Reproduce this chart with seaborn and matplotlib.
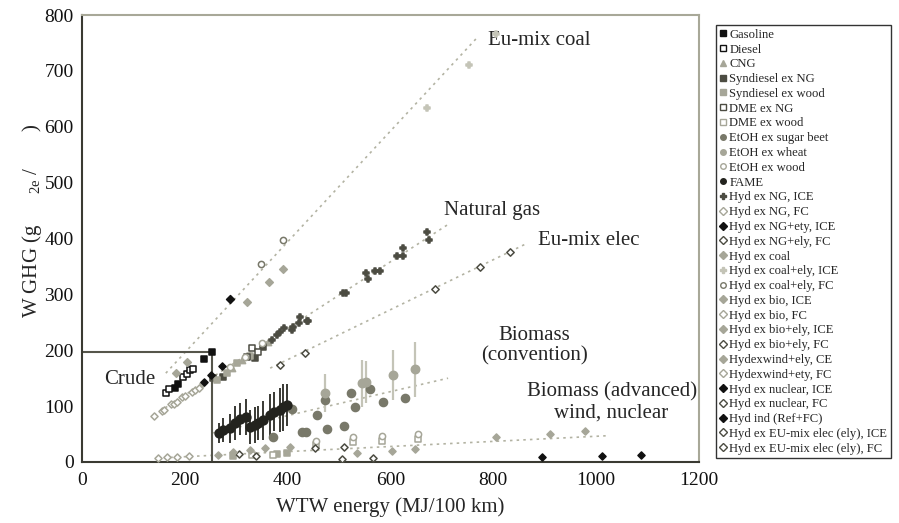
import matplotlib
matplotlib.use("Agg")
import matplotlib.pyplot as plt
import seaborn as sns
import numpy as np

# ---------------- data ----------------
gasoline_x = [180, 186, 237, 253]
gasoline_y = [133, 140, 184, 197]
diesel_x = [163, 170, 197, 204, 210, 216]
diesel_y = [123, 130, 152, 157, 165, 167]
cng_x = [292, 311, 362]
cng_y = [168, 183, 215]
syn_ng_x = [255, 274, 336, 352]
syn_ng_y = [150, 152, 186, 206]
syn_wood_x = [262, 282, 301, 327, 294, 379, 398]
syn_wood_y = [147, 159, 177, 190, 10, 14, 16]
dme_ng_x = [321, 331, 343]
dme_ng_y = [188, 204, 197]
dme_wood_x = [455, 527, 583, 654, 330, 372]
dme_wood_y = [30, 35, 38, 41, 12, 12]
beet_x = [408, 372, 457, 428, 436, 477, 510, 473, 523, 531, 560, 585, 628]
beet_y = [95, 45, 84, 54, 54, 59, 64, 111, 123, 98, 131, 107, 115]
beet_err = [6, 5, 6, 5, 5, 6, 5, 8, 8, 6, 7, 6, 7]
wheat_x = [473, 545, 552, 605, 648]
wheat_y = [123, 141, 143, 156, 166]
wheat_err = [34, 42, 38, 45, 49]
etoh_wood_x = [455, 527, 583, 654, 288, 317, 350]
etoh_wood_y = [38, 44, 46, 50, 170, 188, 213]
fame_x = [266, 275, 287, 298, 307, 319, 327, 336, 343, 352, 366, 374, 385, 391, 399]
fame_y = [52, 57, 60, 70, 77, 80, 63, 66, 70, 75, 84, 90, 93, 98, 102]
fame_err = [18, 22, 26, 30, 28, 32, 30, 32, 30, 35, 38, 35, 40, 42, 38]
ng_ice_x = [370, 379, 385, 393, 408, 410, 422, 424, 438, 440, 507, 513, 552,
            556, 570, 580, 612, 624, 625, 671, 675]
ng_ice_y = [218, 227, 233, 240, 236, 242, 249, 259, 252, 252, 303, 303, 338,
            327, 342, 342, 369, 383, 369, 412, 397]
ng_fc_x = [140, 155, 160, 173, 178, 185, 194, 200, 213, 220, 227, 235]
ng_fc_y = [82, 91, 93, 104, 103, 108, 116, 118, 125, 129, 133, 141]
ng_ely_ice_x = [288]
ng_ely_ice_y = [292]
ng_ely_fc_x = [305]
ng_ely_fc_y = [14]
coal_x = [183, 204, 321, 364, 391]
coal_y = [159, 179, 286, 322, 345]
coal_ely_ice_x = [671, 753, 805]
coal_ely_ice_y = [634, 711, 766]
coal_ely_fc_x = [348, 391]
coal_ely_fc_y = [354, 397]
bio_ice_x = [265, 294, 327, 356, 405]
bio_ice_y = [12, 18, 21, 25, 27]
bio_fc_x = [148, 166]
bio_fc_y = [7, 9]
bio_ely_ice_x = [535, 603, 648, 805]
bio_ely_ice_y = [16, 20, 23, 45]
bio_ely_fc_x = [453, 510]
bio_ely_fc_y = [25, 27]
wind_ice_x = [910, 978]
wind_ice_y = [50, 55]
wind_fc_x = [185, 208]
wind_fc_y = [9, 11]
nuc_ice_x = [895, 1011, 1087]
nuc_ice_y = [9, 11, 12]
nuc_fc_x = [506, 566, 338]
nuc_fc_y = [5, 7, 11]
hyd_ind_x = [237, 251, 272]
hyd_ind_y = [143, 156, 172]
eu_ice_x = [687, 774, 832]
eu_ice_y = [310, 349, 376]
eu_fc_x = [385, 434]
eu_fc_y = [174, 195]

# trend lines (start, end)
trend_coal_x = [163, 768]; trend_coal_y = [159, 759]
trend_ng_x = [140, 710]; trend_ng_y = [84, 424]
trend_elec_x = [366, 867]; trend_elec_y = [168, 392]
trend_bconv_x = [255, 712]; trend_bconv_y = [52, 150]
trend_badv_x = [146, 1021]; trend_badv_y = [7, 47]

crude_x = 253
crude_y = 197

xticks = [0, 200, 400, 600, 800, 1000, 1200]
yticks = [0, 100, 200, 300, 400, 500, 600, 700, 800]

# ---------------- style ----------------
sns.set_theme(style="white")
plt.rcParams['font.family'] = ['Liberation Serif', 'DejaVu Serif']
plt.rcParams['mathtext.fontset'] = 'custom'
plt.rcParams['mathtext.rm'] = 'Liberation Serif'

BLACK = '#111111'
DARK = '#4c4c42'
MID = '#787869'
LIGHT = '#a6a698'
LIGHTER = '#c4c4b7'
LINEC = '#b3b3a3'
W = 'white'

fig = plt.figure(figsize=(8.99, 5.23), dpi=100)
ax = fig.add_axes([82/899, 1-462/523, (699-82)/899, (462-15)/523])

# trend lines
for tx, ty in [(trend_coal_x, trend_coal_y), (trend_ng_x, trend_ng_y),
               (trend_elec_x, trend_elec_y), (trend_bconv_x, trend_bconv_y),
               (trend_badv_x, trend_badv_y)]:
    sns.lineplot(x=tx, y=ty, ax=ax, color=LINEC, linestyle=(0, (1.5, 2.5)),
                 linewidth=1.2, zorder=1, legend=False)

# crude box
ax.plot([0, crude_x], [crude_y, crude_y], color='#55554b', lw=1.5, zorder=2)
ax.plot([crude_x, crude_x], [0, crude_y], color='#55554b', lw=1.5, zorder=2)

# error bars
ax.errorbar(fame_x, fame_y, yerr=fame_err, fmt='none', ecolor='#2a2a24', elinewidth=1.3, zorder=3)
ax.errorbar(wheat_x, wheat_y, yerr=wheat_err, fmt='none', ecolor=LIGHTER, elinewidth=1.6, zorder=3)
ax.errorbar(beet_x, beet_y, yerr=beet_err, fmt='none', ecolor=MID, elinewidth=1.3, zorder=3)

series = [
    ("Gasoline", gasoline_x, gasoline_y, 's', BLACK, BLACK, 20),
    ("Diesel", diesel_x, diesel_y, 's', W, BLACK, 17),
    ("CNG", cng_x, cng_y, '^', LIGHT, LIGHT, 20),
    ("Syndiesel ex NG", syn_ng_x, syn_ng_y, 's', DARK, DARK, 20),
    ("Syndiesel ex wood", syn_wood_x, syn_wood_y, 's', LIGHT, LIGHT, 20),
    ("DME ex NG", dme_ng_x, dme_ng_y, 's', W, DARK, 17),
    ("DME ex wood", dme_wood_x, dme_wood_y, 's', W, LIGHT, 17),
    ("EtOH ex sugar beet", beet_x, beet_y, 'o', MID, MID, 34),
    ("EtOH ex wheat", wheat_x, wheat_y, 'o', LIGHT, LIGHT, 36),
    ("EtOH ex wood", etoh_wood_x, etoh_wood_y, 'o', W, LIGHT, 20),
    ("FAME", fame_x, fame_y, 'o', '#23231e', '#23231e', 40),
    ("Hyd ex NG, ICE", ng_ice_x, ng_ice_y, 'P', DARK, DARK, 24),
    ("Hyd ex NG, FC", ng_fc_x, ng_fc_y, 'D', W, LIGHT, 13),
    ("Hyd ex NG+ety, ICE", ng_ely_ice_x, ng_ely_ice_y, 'D', BLACK, BLACK, 16),
    ("Hyd ex NG+ely, FC", ng_ely_fc_x, ng_ely_fc_y, 'D', W, DARK, 13),
    ("Hyd ex coal", coal_x, coal_y, 'D', LIGHT, LIGHT, 15),
    ("Hyd ex coal+ely, ICE", coal_ely_ice_x, coal_ely_ice_y, 'P', LIGHTER, LIGHTER, 16),
    ("Hyd ex coal+ely, FC", coal_ely_fc_x, coal_ely_fc_y, 'o', W, MID, 20),
    ("Hyd ex bio, ICE", bio_ice_x, bio_ice_y, 'D', LIGHT, LIGHT, 13),
    ("Hyd ex bio, FC", bio_fc_x, bio_fc_y, 'D', W, LIGHT, 13),
    ("Hyd ex bio+ely, ICE", bio_ely_ice_x, bio_ely_ice_y, 'D', LIGHT, LIGHT, 13),
    ("Hyd ex bio+ely, FC", bio_ely_fc_x, bio_ely_fc_y, 'D', W, DARK, 13),
    ("Hydexwind+ely, CE", wind_ice_x, wind_ice_y, 'D', LIGHT, LIGHT, 13),
    ("Hydexwind+ety, FC", wind_fc_x, wind_fc_y, 'D', W, LIGHT, 13),
    ("Hyd ex nuclear, ICE", nuc_ice_x, nuc_ice_y, 'D', BLACK, BLACK, 13),
    ("Hyd ex nuclear, FC", nuc_fc_x, nuc_fc_y, 'D', W, DARK, 13),
    ("Hyd ind (Ref+FC)", hyd_ind_x, hyd_ind_y, 'D', BLACK, BLACK, 13),
    ("Hyd ex EU-mix elec (ely), ICE", eu_ice_x, eu_ice_y, 'D', W, DARK, 14),
    ("Hyd ex EU-mix elec (ely), FC", eu_fc_x, eu_fc_y, 'D', W, DARK, 14),
]

handles = []
for lab, xs, ys, mk, fc, ec, s in series:
    sns.scatterplot(x=xs, y=ys, ax=ax, marker=mk, s=s, color=fc,
                    edgecolor=ec, linewidth=1.1, zorder=4, legend=False)
    handles.append(plt.Line2D([], [], linestyle='none', marker=mk, markersize=4,
                              markerfacecolor=fc, markeredgecolor=ec,
                              markeredgewidth=1.0, label=lab))

# annotations
tfs = 15
ax.text(790, 755, "Eu-mix coal", fontsize=tfs, va='center', ha='left')
ax.text(704, 451, "Natural gas", fontsize=tfs, va='center', ha='left')
ax.text(887, 397, "Eu-mix elec", fontsize=tfs, va='center', ha='left')
ax.text(880, 208, "Biomass\n(convention)", fontsize=tfs, va='center', ha='center', linespacing=1.15)
ax.text(1030, 106, "Biomass (advanced)\nwind, nuclear", fontsize=tfs, va='center', ha='center', linespacing=1.15)
ax.text(43, 147, "Crude", fontsize=tfs, va='center', ha='left')

# axes
ax.set_xlim(0, 1200)
ax.set_ylim(0, 800)
ax.set_xticks(xticks)
ax.set_yticks(yticks)
ax.tick_params(axis='both', labelsize=14, direction='out', length=4, width=1.2,
               colors='#333333', labelcolor='#111111', pad=2)
ax.tick_params(axis='x', pad=3)
for side in ['left', 'bottom']:
    ax.spines[side].set_color('#3a3a32')
    ax.spines[side].set_linewidth(1.5)
for side in ['top', 'right']:
    ax.spines[side].set_color('#a8a898')
    ax.spines[side].set_linewidth(1.5)
ax.grid(False)

ax.set_xlabel("WTW energy (MJ/100 km)", fontsize=15, labelpad=6)
ax.set_ylabel("W GHG (g      $_{\\mathrm{2e}}$ /       )", fontsize=15)
ax.yaxis.set_label_coords(-0.062, 0.54)

fig.legend(handles=handles, loc='upper left',
           bbox_to_anchor=(716/899, 1-25/523), bbox_transform=fig.transFigure,
           frameon=True, fancybox=False, edgecolor='#333333', framealpha=1,
           fontsize=9.1, handlelength=0.5, handletextpad=0.25, labelspacing=0.22,
           borderpad=0.3, borderaxespad=0)

fig.savefig("out.png", dpi=100)
